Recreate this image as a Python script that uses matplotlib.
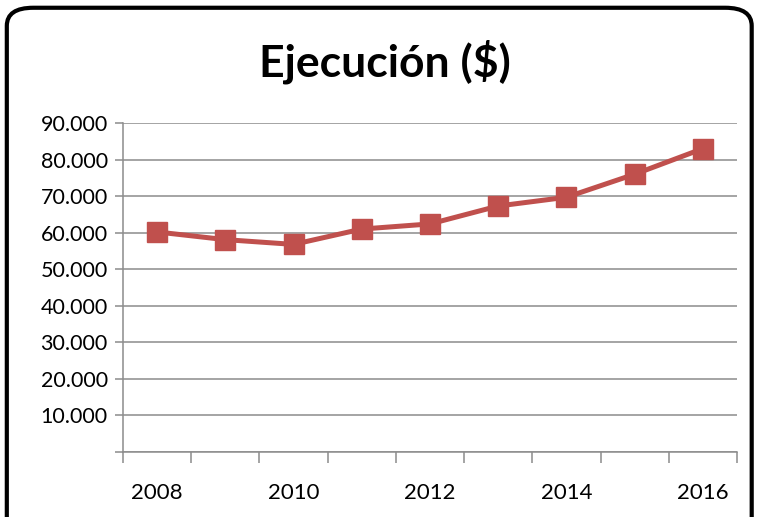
import numpy as np
import matplotlib.pyplot as plt
from matplotlib.patches import FancyBboxPatch
from matplotlib.ticker import FuncFormatter

years = [2008, 2009, 2010, 2011, 2012, 2013, 2014, 2015, 2016]
ejecucion = [60200, 58100, 56800, 61000, 62400, 67300, 69700, 76000, 83000]
title = "Ejecución ($)"

plt.rcParams['font.family'] = ['Lato', 'DejaVu Sans']

fig = plt.figure(figsize=(7.57, 5.17), dpi=100)
ax = fig.add_axes([0.1625, 0.1257, 0.811, 0.6363])

x = np.arange(len(years)) + 0.5
ax.plot(x, ejecucion, color="#C0504D", linewidth=3.6, marker="s",
        markersize=14, markerfacecolor="#C0504D", markeredgecolor="#C0504D")

ax.set_xlim(0, len(years))
ax.set_ylim(0, 90000)
ax.set_yticks(np.arange(0, 90001, 10000))
ax.yaxis.set_major_formatter(FuncFormatter(
    lambda v, p: "" if v == 0 else f"{int(v):,}".replace(",", ".")))
ax.grid(axis="y", color="#8c8c8c", linewidth=1.1)
ax.set_axisbelow(True)

# category axis: ticks between categories, labels on even years
ax.set_xticks(np.arange(len(years) + 1))
ax.set_xticklabels([])
ax.set_xticks(x, minor=True)
ax.set_xticklabels([str(y) if y % 2 == 0 else "" for y in years], minor=True)
ax.tick_params(axis="x", which="major", length=8, color="#8c8c8c", width=1.1)
ax.tick_params(axis="x", which="minor", length=0, pad=22, labelsize=16)
ax.tick_params(axis="y", length=6, color="#8c8c8c", width=1.1, labelsize=15.5, pad=5)

for s in ["top", "right"]:
    ax.spines[s].set_visible(False)
for s in ["left", "bottom"]:
    ax.spines[s].set_color("#8c8c8c")
    ax.spines[s].set_linewidth(1.1)

fig.text(0.508, 0.88, title, ha="center", va="center", fontsize=32, fontweight="bold")

border = FancyBboxPatch((0.009, -0.05), 0.984, 1.035, boxstyle="round,pad=0,rounding_size=0.035",
                        transform=fig.transFigure, fill=False, edgecolor="black", linewidth=3)
fig.patches.append(border)

fig.savefig("out.png", dpi=100)
